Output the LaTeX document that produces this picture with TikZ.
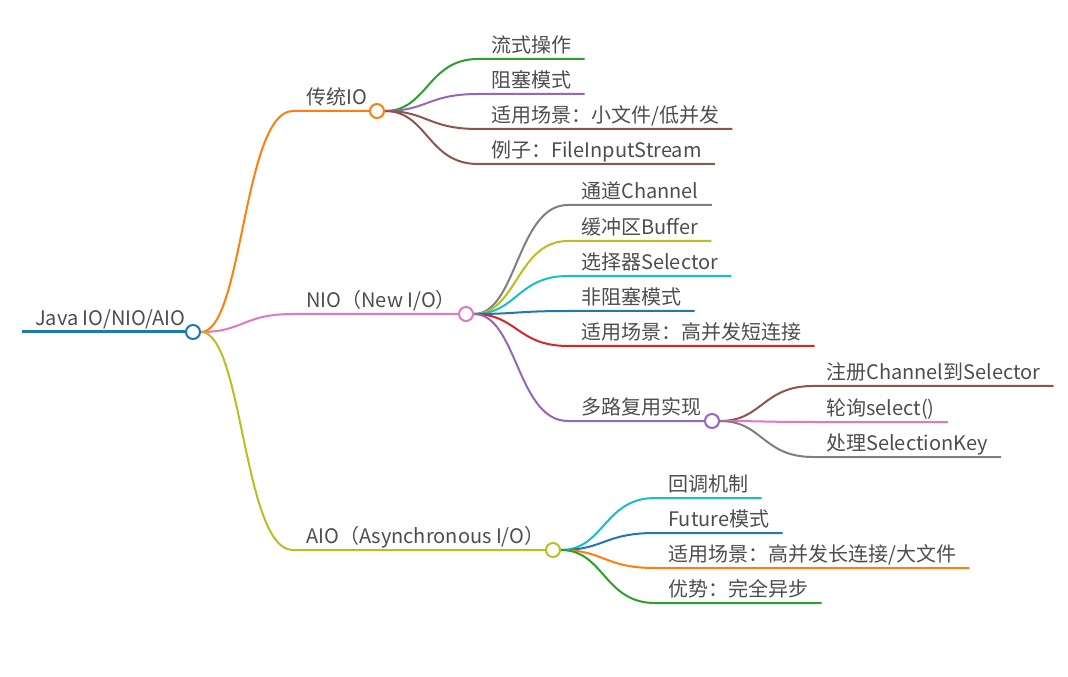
\documentclass[tikz,border=0pt]{standalone}
\usepackage{fontspec}
\setmainfont{Noto Sans CJK SC}
\usetikzlibrary{calc,positioning,backgrounds}

\definecolor{cBlue}{HTML}{1F77B4}
\definecolor{cOrange}{HTML}{FF7F0E}
\definecolor{cGreen}{HTML}{2CA02C}
\definecolor{cRed}{HTML}{D62728}
\definecolor{cPurple}{HTML}{9467BD}
\definecolor{cBrown}{HTML}{8C564B}
\definecolor{cPink}{HTML}{E377C2}
\definecolor{cGrey}{HTML}{7F7F7F}
\definecolor{cOlive}{HTML}{BCBD22}
\definecolor{cCyan}{HTML}{17BECF}
\definecolor{txt}{HTML}{4D4D4D}

\tikzset{
  leaf/.style={anchor=south west, inner xsep=9.75pt, inner ysep=4.5pt,
    text depth=0pt, text=txt, font=\fontsize{15}{18}\selectfont},
  knob/.style={circle, draw=#1, fill=white, line width=1.5pt,
    minimum size=10.5pt, inner sep=0pt},
  branch/.style={draw=#1, line width=1.5pt},
  link/.style={to path={let \p1=(\tikztostart), \p2=(\tikztotarget) in
    .. controls ({(\x1+\x2)/2},\y1) and ({(\x1+\x2)/2},\y2) .. (\p2)}}
}

\begin{document}
\begin{tikzpicture}[x=0.75pt,y=-0.75pt]
\useasboundingbox (0,0) rectangle (1068,677);

% root
\node[leaf] (root-t) at (22,332) {Java IO/NIO/AIO};
\node[knob=cBlue] (root) at (193,332) {};

% first level
\node[leaf] (tio-t) at (293,111) {传统IO};
\node[knob=cOrange] (tio) at (377,111) {};
\node[leaf] (nio-t) at (293,314) {NIO（New I/O）};
\node[knob=cPink] (nio) at (466,314) {};
\node[leaf] (aio-t) at (293,550) {AIO（Asynchronous I/O）};
\node[knob=cOlive] (aio) at (553,550) {};

% traditional IO
\node[leaf] (tio-1) at (478,59) {流式操作};
\node[leaf] (tio-2) at (478,94) {阻塞模式};
\node[leaf] (tio-3) at (478,129) {适用场景：小文件/低并发};
\node[leaf] (tio-4) at (478,164) {例子：FileInputStream};

% NIO
\node[leaf] (nio-1) at (568,205) {通道Channel};
\node[leaf] (nio-2) at (568,241) {缓冲区Buffer};
\node[leaf] (nio-3) at (568,276) {选择器Selector};
\node[leaf] (nio-4) at (568,311) {非阻塞模式};
\node[leaf] (nio-5) at (568,346) {适用场景：高并发短连接};
\node[leaf] (mux-t) at (568,421) {多路复用实现};
\node[knob=cPurple] (mux) at (712,421) {};

\node[leaf] (mux-1) at (813,386) {注册Channel到Selector};
\node[leaf] (mux-2) at (813,422) {轮询select()};
\node[leaf] (mux-3) at (813,457) {处理SelectionKey};

% AIO
\node[leaf] (aio-1) at (655,498) {回调机制};
\node[leaf] (aio-2) at (655,533) {Future模式};
\node[leaf] (aio-3) at (655,568) {适用场景：高并发长连接/大文件};
\node[leaf] (aio-4) at (655,603) {优势：完全异步};

\begin{scope}[on background layer]
  \draw[branch=cBlue, line width=2.25pt] (root-t.south west) -- (root);
  \draw[branch=cOrange] (root) to[link] (tio-t.south west) -- (tio);
  \draw[branch=cPink] (root) to[link] (nio-t.south west) -- (nio);
  \draw[branch=cOlive] (root) to[link] (aio-t.south west) -- (aio);

  \draw[branch=cGreen] (tio) to[link] (tio-1.south west) -- (tio-1.south east);
  \draw[branch=cPurple] (tio) to[link] (tio-2.south west) -- (tio-2.south east);
  \draw[branch=cBrown] (tio) to[link] (tio-3.south west) -- (tio-3.south east);
  \draw[branch=cBrown] (tio) to[link] (tio-4.south west) -- (tio-4.south east);

  \draw[branch=cGrey] (nio) to[link] (nio-1.south west) -- (nio-1.south east);
  \draw[branch=cOlive] (nio) to[link] (nio-2.south west) -- (nio-2.south east);
  \draw[branch=cCyan] (nio) to[link] (nio-3.south west) -- (nio-3.south east);
  \draw[branch=cBlue] (nio) to[link] (nio-4.south west) -- (nio-4.south east);
  \draw[branch=cRed] (nio) to[link] (nio-5.south west) -- (nio-5.south east);
  \draw[branch=cPurple] (nio) to[link] (mux-t.south west) -- (mux);

  \draw[branch=cBrown] (mux) to[link] (mux-1.south west) -- (mux-1.south east);
  \draw[branch=cPink] (mux) to[link] (mux-2.south west) -- (mux-2.south east);
  \draw[branch=cGrey] (mux) to[link] (mux-3.south west) -- (mux-3.south east);

  \draw[branch=cCyan] (aio) to[link] (aio-1.south west) -- (aio-1.south east);
  \draw[branch=cBlue] (aio) to[link] (aio-2.south west) -- (aio-2.south east);
  \draw[branch=cOrange] (aio) to[link] (aio-3.south west) -- (aio-3.south east);
  \draw[branch=cGreen] (aio) to[link] (aio-4.south west) -- (aio-4.south east);
\end{scope}

\end{tikzpicture}
\end{document}
